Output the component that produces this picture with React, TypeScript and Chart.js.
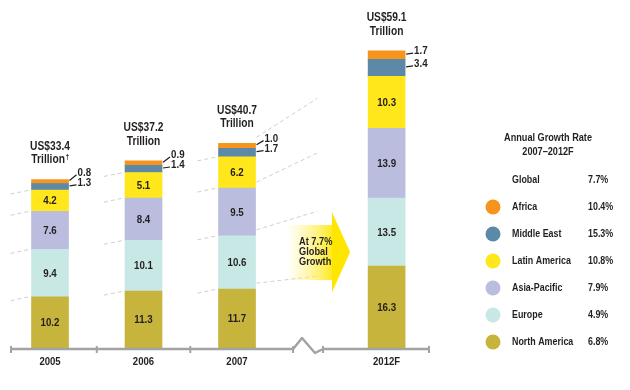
import React, { useEffect, useRef } from "react";
import { Chart, registerables } from "chart.js";
Chart.register(...registerables);

// ---------- data ----------
const years = ["2005", "2006", "2007", "2012F"];
const yearPos = [0, 1, 2, 3.6];
const totalLabels = ["US$33.4", "US$37.2", "US$40.7", "US$59.1"];
const totalFootnotes = ["†", "", "", ""];
const northAmerica = [10.2, 11.3, 11.7, 16.3];
const europe = [9.4, 10.1, 10.6, 13.5];
const asiaPacific = [7.6, 8.4, 9.5, 13.9];
const latinAmerica = [4.2, 5.1, 6.2, 10.3];
const middleEast = [1.3, 1.4, 1.7, 3.4];
const africa = [0.8, 0.9, 1.0, 1.7];
const regionNames = ["North America", "Europe", "Asia-Pacific", "Latin America", "Middle East", "Africa"];
const growthRates = ["6.8%", "4.9%", "7.9%", "10.8%", "15.3%", "10.4%"];
const globalGrowth = "7.7%";
const legendTitle = ["Annual Growth Rate", "2007\u20132012F"];
const arrowText = ["At 7.7%", "Global", "Growth"];

const series = [northAmerica, europe, asiaPacific, latinAmerica, middleEast, africa];
const colors = ["#C7B43C", "#C8E8E5", "#BABDDD", "#FFE71C", "#5C89A8", "#F7941E"];

const FONT = '"Liberation Sans", Arial, sans-serif';
const TEXT = "#231F20";
const BAR_W = 37;
const SQ = 0.84;

function txt(ctx: any, s: string, x: number, y: number, size: number, align: string = "center") {
  ctx.save();
  ctx.font = `bold ${size}px ${FONT}`;
  ctx.textBaseline = "middle";
  ctx.textAlign = align;
  ctx.fillStyle = TEXT;
  ctx.translate(x, y);
  ctx.scale(SQ, 1);
  ctx.fillText(s, 0, 0);
  ctx.restore();
}
function txtWidth(ctx: any, s: string, size: number) {
  ctx.save();
  ctx.font = `bold ${size}px ${FONT}`;
  const w = ctx.measureText(s).width * SQ;
  ctx.restore();
  return w;
}

const decor = {
  id: "decor",
  beforeDatasetsDraw(chart: any) {
    const { ctx, scales } = chart;
    const x = scales.x, y = scales.y;
    const half = BAR_W / 2;
    ctx.save();
    ctx.strokeStyle = "#CFCFCF";
    ctx.lineWidth = 1;
    ctx.setLineDash([4, 3]);
    // short guides to the left of the first three bars
    for (let i = 0; i < 3; i++) {
      const left = x.getPixelForValue(yearPos[i]) - half;
      let cum = 0;
      for (let k = 0; k < 4; k++) {
        cum += series[k][i];
        const py = y.getPixelForValue(cum);
        ctx.beginPath();
        ctx.moveTo(left - 21, py + 4);
        ctx.lineTo(left - 2, py);
        ctx.stroke();
      }
    }
    // rising guides from 2007 toward 2012F
    const right = x.getPixelForValue(yearPos[2]) + half;
    const endX = x.getPixelForValue(2.86);
    [1, 2, 3, 6].forEach((n) => {
      let cum = 0;
      for (let k = 0; k < n; k++) cum += series[k][2];
      ctx.beginPath();
      ctx.moveTo(right + 1, y.getPixelForValue(cum) - 6);
      ctx.lineTo(endX, y.getPixelForValue(cum * 1.22));
      ctx.stroke();
    });
    ctx.setLineDash([]);

    // growth arrow
    const bl = x.getPixelForValue(2.535);
    const hs = x.getPixelForValue(3.016);
    const tip = x.getPixelForValue(3.21);
    const bt = y.getPixelForValue(24.45);
    const bb = y.getPixelForValue(13.5);
    const ht = y.getPixelForValue(27.0);
    const hb = y.getPixelForValue(11.1);
    const ty = y.getPixelForValue(19.08);
    const g = ctx.createLinearGradient(bl, 0, hs + 4, 0);
    g.addColorStop(0, "rgba(255,240,120,0)");
    g.addColorStop(0.35, "rgba(255,240,110,0.45)");
    g.addColorStop(1, "#FFE600");
    ctx.fillStyle = g;
    ctx.fillRect(bl, bt, hs - bl + 1, bb - bt);
    ctx.fillStyle = "#FFE600";
    ctx.beginPath();
    ctx.moveTo(hs, ht);
    ctx.lineTo(tip, ty);
    ctx.lineTo(hs, hb);
    ctx.closePath();
    ctx.fill();
    const tx = x.getPixelForValue(2.663);
    arrowText.forEach((t, i) => txt(ctx, t, tx, ty + (i - 1) * 10.2, 11, "left"));
    ctx.restore();
  },
  afterDatasetsDraw(chart: any) {
    const { ctx, scales } = chart;
    const x = scales.x, y = scales.y;
    const half = BAR_W / 2;
    ctx.save();
    ctx.strokeStyle = TEXT;

    years.forEach((yr, i) => {
      const cx = x.getPixelForValue(yearPos[i]);
      const right = cx + half;
      let cum = 0;
      const bounds: number[] = [y.getPixelForValue(0)];
      series.forEach((s) => {
        cum += s[i];
        bounds.push(y.getPixelForValue(cum));
      });
      // inner labels
      for (let k = 0; k < 4; k++) {
        txt(ctx, series[k][i].toFixed(1), cx, (bounds[k] + bounds[k + 1]) / 2 + 0.5, 11.6);
      }
      // outer labels with leaders
      const meMid = (bounds[4] + bounds[5]) / 2;
      const afMid = (bounds[5] + bounds[6]) / 2;
      const meY = meMid - 4;
      const afY = Math.min(afMid - 4, meY - 10);
      ctx.lineWidth = 1.2;
      [
        [afMid - 1, afY, africa[i]],
        [meMid - 1, meY, middleEast[i]],
      ].forEach(([sy, ly, v]) => {
        ctx.beginPath();
        ctx.moveTo(right + 1, sy);
        ctx.lineTo(right + 8, ly + 2);
        ctx.stroke();
        txt(ctx, v.toFixed(1), right + 9, ly, 11.6, "left");
      });
      // totals
      const top = bounds[6];
      txt(ctx, totalLabels[i], cx, top - 33, 12.2);
      const fn = totalFootnotes[i];
      const tw = txtWidth(ctx, "Trillion", 12.2);
      const fw = fn ? txtWidth(ctx, fn, 8) : 0;
      const sx = cx - (tw + fw) / 2;
      txt(ctx, "Trillion", sx, top - 19.5, 12.2, "left");
      if (fn) txt(ctx, fn, sx + tw + 0.5, top - 23, 8, "left");
      // category label
      txt(ctx, yr, cx, y.getPixelForValue(0) + 13.5, 11.4);
    });

    // axis with break
    const ay = y.getPixelForValue(0) + 1;
    const brkA = x.getPixelForValue(2.6);
    const brkP = x.getPixelForValue(2.695);
    const brkT = x.getPixelForValue(2.834);
    const brkB = x.getPixelForValue(2.92);
    ctx.strokeStyle = "#A3A3A3";
    ctx.lineWidth = 2.5;
    ctx.lineJoin = "round";
    ctx.beginPath();
    ctx.moveTo(x.left, ay);
    ctx.lineTo(brkA, ay);
    ctx.lineTo(brkP, ay - 11);
    ctx.lineTo(brkT, ay + 4);
    ctx.lineTo(brkB, ay);
    ctx.lineTo(x.right, ay);
    ctx.stroke();
    ctx.lineWidth = 2;
    [x.left + 1, x.getPixelForValue(0.5), x.getPixelForValue(1.5), brkA, brkB, x.right - 1].forEach((px) => {
      ctx.beginPath();
      ctx.moveTo(px, ay - 3);
      ctx.lineTo(px, ay + 4);
      ctx.stroke();
    });

    // legend
    txt(ctx, legendTitle[0], 548, 138, 10.9);
    txt(ctx, legendTitle[1], 548, 152, 10.9);
    txt(ctx, "Global", 512, 180, 10.6, "left");
    txt(ctx, globalGrowth, 588, 180, 10.6, "left");
    for (let r = 0; r < 6; r++) {
      const k = 5 - r;
      const ry = 207 + r * 27;
      ctx.fillStyle = colors[k];
      ctx.beginPath();
      ctx.arc(493, ry, 7.5, 0, Math.PI * 2);
      ctx.fill();
      txt(ctx, regionNames[k], 512, ry, 10.6, "left");
      txt(ctx, growthRates[k], 588, ry, 10.6, "left");
    }
    ctx.restore();
  },
};

export default function App() {
  const ref = useRef<HTMLCanvasElement>(null);
  useEffect(() => {
    if (!ref.current) return;
    const chart = new Chart(ref.current, {
      type: "bar",
      data: {
        datasets: series.map((s, k) => ({
          label: regionNames[k],
          data: s.map((v, i) => ({ x: yearPos[i], y: v })),
          backgroundColor: colors[k],
          borderWidth: 0,
          barThickness: BAR_W,
        })),
      },
      options: {
        animation: false,
        responsive: false,
        maintainAspectRatio: false,
        layout: { padding: { left: 10, right: 200, top: 0, bottom: 42 } },
        plugins: { legend: { display: false }, tooltip: { enabled: false } },
        scales: {
          x: {
            type: "linear",
            stacked: true,
            offset: false,
            min: -0.428,
            max: 4.064,
            grid: { display: false, drawTicks: false },
            border: { display: false },
            afterBuildTicks: (axis: any) => {
              axis.ticks = yearPos.map((v) => ({ value: v }));
            },
            ticks: { display: false },
          },
          y: {
            stacked: true,
            display: false,
            min: 0,
            max: 69.2,
          },
        },
      },
      plugins: [decor],
    } as any);
    return () => chart.destroy();
  }, []);
  return (
    <div style={{ position: "fixed", left: 0, top: 0, width: 630, height: 390, background: "#fff" }}>
      <canvas ref={ref} width={630} height={390} style={{ width: 630, height: 390 }} />
    </div>
  );
}
